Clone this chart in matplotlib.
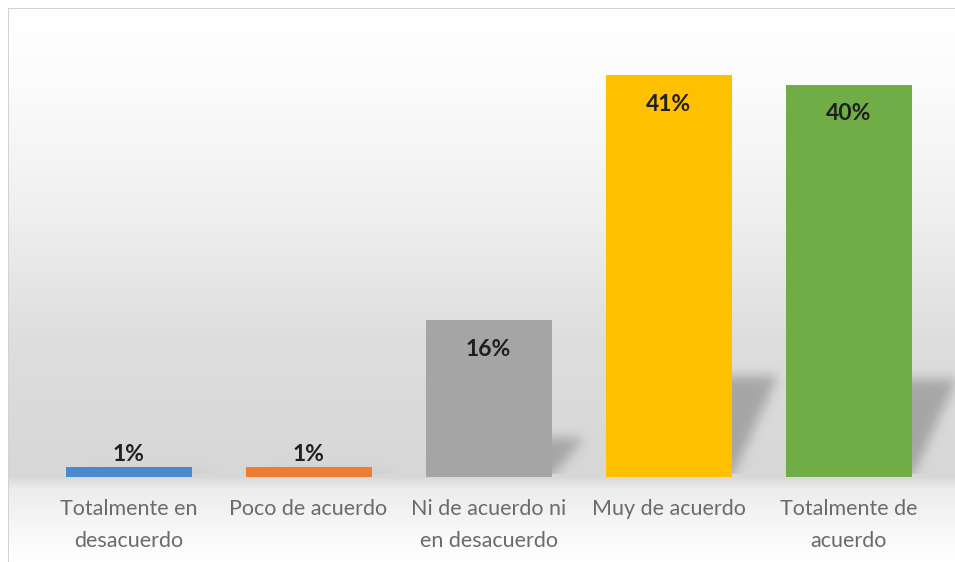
import matplotlib.pyplot as plt
import numpy as np
from matplotlib.path import Path

# survey answers and their share of responses
categorias = ["Totalmente en\ndesacuerdo", "Poco de acuerdo", "Ni de acuerdo ni\nen desacuerdo",
              "Muy de acuerdo", "Totalmente de\nacuerdo"]
porcentajes = [1, 1, 16, 41, 40]
colores = ["#4a89d0", "#ed7d31", "#a5a5a5", "#ffc000", "#70ad47"]

W, H = 955, 562
ANCHO = 0.7
YMAX = 45

fig = plt.figure(figsize=(W / 100, H / 100), dpi=100)
fig.patch.set_facecolor("white")

# chart area: white at the top, grey near the base, fading out under the labels
filas = np.arange(H)
tono = np.interp(filas, [8, 78, 208, 338, 476, 488, 538, 562],
                 [255, 252, 240, 222, 215, 236, 250, 255]) / 255
fondo = np.ones((H, W, 3))
fondo[8:, 8:, :] = tono[8:, None, None]
fondo[8, 8:, :] = 0.83
fondo[8:, 8, :] = 0.83
fig.figimage(fondo, xo=0, yo=0, origin="upper", zorder=-10)

ax = fig.add_axes([38.5 / W, 85 / H, 900 / W, YMAX * 9.8 / H])
ax.set_facecolor("none")
x = np.arange(len(categorias))

# soft perspective shadows falling behind each bar
nx, ny = 1040, 450
x0, x1 = -0.5, 4.78
gx = np.linspace(x0, x1, nx)
gy = np.linspace(0, YMAX, ny)
XX, YY = np.meshgrid(gx, gy)
pts = np.column_stack([XX.ravel(), YY.ravel()])
mask = np.zeros(XX.size)
for xi, h in zip(x, porcentajes):
    alto = 0.25 * h
    dx = 0.13 + 0.003 * h
    poly = Path([(xi - ANCHO / 2 + 0.05, 0), (xi + ANCHO / 2, 0),
                 (xi + ANCHO / 2 + dx, alto), (xi - ANCHO / 2 + 0.05 + dx, alto)])
    mask = np.maximum(mask, poly.contains_points(pts).astype(float))
mask = mask.reshape(ny, nx)
k = np.exp(-0.5 * (np.arange(-18, 19) / 6.0) ** 2)
k /= k.sum()
mask = np.apply_along_axis(lambda r: np.convolve(r, k, mode="same"), 1, mask)
mask = np.apply_along_axis(lambda c: np.convolve(c, k, mode="same"), 0, mask)
mask[gy < 0.3, :] *= 0.0
sombra = np.zeros((ny, nx, 4))
sombra[..., :3] = 0.45
sombra[..., 3] = mask * 0.5
ax.imshow(sombra, extent=(x0, x1, 0, YMAX), origin="lower", aspect="auto",
          zorder=1, clip_on=False)

ax.bar(x, porcentajes, width=ANCHO, color=colores, zorder=2)

for xi, h in zip(x, porcentajes):
    off = -29 if h > 5 else 13
    ax.annotate(f"{h}%", (xi, h), xytext=(0, off), textcoords="offset pixels",
                ha="center", va="center", fontsize=16.5, fontweight="bold",
                color="#1f1f1f", family="Lato", zorder=3)

ax.set_xlim(-0.5, 4.5)
ax.set_ylim(0, YMAX)
ax.set_xticks(x, categorias)
ax.tick_params(axis="x", length=0, pad=16, labelsize=15.5, labelcolor="#6b6b6b")
for t in ax.get_xticklabels():
    t.set_family("Lato")
    t.set_linespacing(1.75)
ax.set_yticks([])
for s in ax.spines.values():
    s.set_visible(False)

fig.savefig("out.png", dpi=100)
